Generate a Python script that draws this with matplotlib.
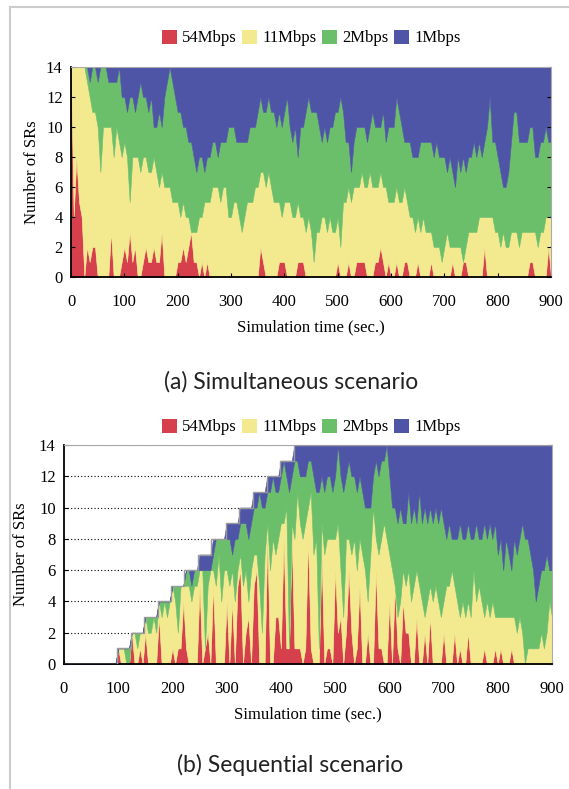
import numpy as np
import matplotlib.pyplot as plt
from matplotlib.patches import Patch
from matplotlib.lines import Line2D

plt.rcParams['font.family'] = ['Liberation Serif', 'DejaVu Serif']

# sample times (sec.)
t = np.arange(0, 901, 5)

rates = ['54Mbps', '11Mbps', '2Mbps', '1Mbps']
colors = ['#d6404c', '#f3ea90', '#6bbf6a', '#4f55a6']

# (a) simultaneous scenario, 14 SRs all the time
# SRs at 54Mbps / at 11Mbps or faster / at 2Mbps or faster
a_total = 14
a_54 = [14, 4, 8, 5, 4, 0, 2, 1, 2, 2,
        0, 0, 0, 0, 0, 3, 0, 0, 0, 1,
        2, 1, 3, 1, 2, 0, 0, 1, 2, 1,
        1, 2, 1, 1, 3, 0, 0, 0, 0, 0,
        1, 1, 2, 1, 2, 3, 1, 1, 0, 1,
        0, 1, 0, 0, 0, 0, 0, 0, 0, 0,
        0, 0, 0, 0, 0, 0, 0, 0, 0, 0,
        0, 2, 1, 0, 0, 0, 0, 0, 1, 1,
        1, 0, 0, 0, 0, 1, 1, 1, 0, 0,
        0, 0, 0, 0, 0, 0, 0, 0, 0, 0,
        1, 0, 0, 0, 1, 0, 0, 1, 1, 1,
        1, 0, 0, 0, 1, 1, 2, 1, 0, 1,
        0, 0, 1, 0, 0, 1, 1, 0, 0, 0,
        1, 0, 0, 0, 0, 1, 0, 0, 0, 0,
        0, 0, 0, 1, 0, 0, 0, 1, 1, 0,
        0, 0, 0, 0, 0, 2, 0, 0, 0, 0,
        0, 0, 0, 0, 0, 0, 0, 0, 0, 0,
        0, 0, 1, 1, 0, 0, 0, 0, 0, 2,
        0]
a_upto11 = [14, 14, 14, 14, 14, 14, 13, 12, 11, 11,
            10, 7, 10, 10, 10, 10, 8, 10, 9, 8,
            9, 8, 5, 8, 8, 8, 7, 8, 8, 7,
            7, 8, 7, 6, 7, 6, 6, 6, 5, 5,
            5, 4, 5, 4, 4, 3, 3, 3, 4, 4,
            5, 5, 5, 6, 6, 6, 5, 6, 6, 4,
            4, 5, 5, 4, 3, 4, 5, 5, 5, 6,
            6, 7, 7, 6, 7, 6, 5, 5, 5, 4,
            5, 5, 5, 4, 4, 5, 4, 4, 3, 4,
            3, 1, 3, 3, 4, 4, 3, 4, 3, 3,
            4, 2, 5, 5, 6, 5, 6, 6, 6, 7,
            6, 6, 7, 6, 6, 6, 7, 6, 6, 5,
            5, 5, 6, 5, 5, 6, 5, 4, 4, 3,
            4, 3, 4, 3, 3, 3, 2, 2, 2, 1,
            2, 3, 2, 2, 2, 2, 2, 1, 2, 3,
            3, 3, 3, 4, 4, 4, 4, 4, 4, 3,
            3, 2, 3, 2, 2, 3, 3, 3, 2, 3,
            3, 3, 3, 3, 3, 2, 3, 3, 4, 4,
            4]
a_upto2 = [14, 14, 14, 14, 14, 14, 14, 13, 14, 14,
           13, 14, 14, 14, 13, 13, 13, 13, 14, 12,
           12, 11, 12, 12, 11, 12, 13, 12, 12, 11,
           12, 10, 10, 11, 10, 12, 13, 14, 13, 12,
           11, 11, 10, 10, 9, 9, 8, 7, 8, 8,
           7, 8, 8, 9, 9, 8, 9, 9, 9, 10,
           10, 10, 9, 9, 9, 9, 9, 10, 10, 10,
           11, 12, 11, 11, 12, 11, 11, 10, 11, 10,
           11, 12, 10, 9, 10, 8, 10, 10, 11, 12,
           11, 11, 11, 10, 9, 10, 9, 10, 10, 11,
           11, 12, 11, 9, 9, 7, 9, 10, 10, 10,
           10, 9, 10, 11, 10, 10, 10, 11, 9, 10,
           10, 10, 12, 11, 10, 9, 9, 9, 8, 8,
           8, 9, 9, 9, 9, 9, 8, 9, 8, 8,
           8, 7, 8, 7, 6, 8, 7, 8, 7, 8,
           8, 9, 8, 9, 8, 9, 10, 12, 9, 9,
           8, 7, 6, 6, 7, 9, 11, 11, 9, 9,
           9, 9, 10, 10, 8, 8, 9, 9, 10, 9,
           9]

# (b) sequential scenario, SRs join one after another
b_join_times = [98, 123, 148, 173, 198, 222, 247, 272, 298, 323, 349, 374, 399, 424]
b_54 = [0, 0, 0, 0, 0, 0, 0, 0, 0, 0,
        0, 0, 0, 0, 0, 0, 0, 0, 0, 0,
        1, 0, 0, 0, 0, 2, 0, 0, 1, 0,
        2, 0, 0, 0, 0, 3, 0, 0, 0, 0,
        1, 0, 1, 1, 4, 1, 0, 0, 0, 0,
        5, 0, 1, 2, 0, 5, 0, 0, 0, 0,
        4, 0, 4, 0, 5, 6, 0, 2, 3, 0,
        5, 6, 0, 0, 0, 8, 0, 0, 3, 3,
        1, 8, 1, 1, 8, 1, 1, 1, 0, 1,
        8, 1, 0, 0, 0, 7, 0, 1, 1, 0,
        6, 2, 3, 0, 2, 6, 2, 0, 1, 5,
        0, 0, 2, 0, 0, 6, 1, 1, 0, 0,
        4, 0, 5, 1, 0, 4, 2, 2, 0, 0,
        3, 0, 0, 2, 0, 3, 0, 0, 0, 0,
        2, 0, 0, 0, 2, 0, 1, 0, 0, 2,
        0, 0, 0, 0, 0, 1, 0, 0, 0, 1,
        0, 1, 0, 0, 0, 1, 0, 0, 0, 0,
        0, 0, 0, 0, 0, 0, 0, 0, 0, 0,
        0]
b_upto11 = [0, 0, 0, 0, 0, 0, 0, 0, 0, 0,
            0, 0, 0, 0, 0, 0, 0, 0, 0, 0,
            1, 1, 1, 0, 0, 2, 2, 1, 2, 2,
            3, 2, 2, 3, 2, 4, 3, 4, 3, 4,
            5, 4, 2, 5, 5, 5, 5, 4, 5, 5,
            6, 6, 1, 5, 6, 6, 5, 7, 4, 6,
            6, 5, 6, 4, 6, 7, 5, 6, 4, 6,
            7, 7, 5, 2, 7, 9, 6, 8, 7, 8,
            9, 9, 10, 1, 9, 8, 11, 9, 8, 9,
            10, 11, 7, 8, 1, 9, 7, 8, 8, 8,
            8, 9, 6, 3, 8, 8, 7, 8, 6, 8,
            7, 6, 4, 7, 10, 8, 7, 8, 9, 8,
            7, 6, 5, 3, 4, 6, 5, 6, 4, 5,
            6, 5, 4, 3, 4, 5, 4, 5, 4, 3,
            4, 5, 5, 6, 5, 4, 3, 4, 3, 4,
            3, 6, 4, 5, 4, 3, 4, 3, 4, 3,
            3, 3, 3, 3, 3, 3, 3, 2, 3, 2,
            0, 1, 1, 1, 1, 1, 2, 1, 2, 4,
            3]
b_upto2 = [0, 0, 0, 0, 0, 0, 0, 0, 0, 0,
           0, 0, 0, 0, 0, 0, 0, 0, 0, 0,
           1, 1, 1, 1, 1, 2, 2, 2, 2, 2,
           3, 3, 3, 3, 3, 4, 4, 4, 4, 4,
           5, 5, 5, 5, 5, 6, 6, 5, 6, 6,
           6, 6, 6, 6, 6, 7, 8, 8, 8, 8,
           8, 8, 7, 8, 8, 9, 9, 9, 8, 9,
           10, 10, 11, 10, 10, 11, 11, 12, 11, 11,
           12, 13, 12, 11, 12, 13, 13, 12, 12, 12,
           13, 13, 12, 11, 11, 12, 11, 12, 12, 11,
           12, 14, 12, 11, 12, 13, 12, 12, 11, 12,
           11, 10, 10, 10, 12, 13, 12, 13, 13, 14,
           12, 10, 10, 9, 10, 9, 9, 11, 9, 10,
           9, 11, 9, 10, 9, 10, 9, 10, 9, 10,
           9, 8, 9, 8, 8, 8, 9, 8, 8, 9,
           8, 8, 9, 8, 8, 9, 8, 9, 8, 9,
           7, 8, 6, 8, 7, 6, 8, 7, 8, 9,
           8, 8, 7, 6, 4, 5, 6, 6, 7, 6,
           6]

b_total = np.array([np.sum(np.array(b_join_times) <= x) for x in t])


def draw_panel(ax, total, r54, upto11, upto2, ylabelpad):
    r54 = np.array(r54)
    upto11 = np.array(upto11)
    upto2 = np.array(upto2)
    counts = [r54, upto11 - r54, upto2 - upto11, total - upto2]
    polys = ax.stackplot(t, counts, colors=colors, linewidth=0.4)
    for p, c in zip(polys, colors):
        p.set_edgecolor(c)
    ax.set_xlim(0, 900)
    ax.set_ylim(0, 14)
    ax.set_xticks(range(0, 901, 100))
    ax.set_yticks(range(0, 15, 2))
    ax.tick_params(axis='x', direction='in', length=3, labelsize=12, pad=12)
    ax.tick_params(axis='y', direction='in', length=3, labelsize=12, pad=6, right=True)
    for s in ['top', 'right']:
        ax.spines[s].set_color('#aaaaaa')
    for s in ['left', 'bottom']:
        ax.spines[s].set_linewidth(1.3)
    ax.set_xlabel('Simulation time (sec.)', fontsize=12, labelpad=7)
    ax.set_ylabel('Number of SRs', fontsize=12, labelpad=ylabelpad)


fig = plt.figure(figsize=(5.69, 7.89), dpi=100)
W, H = 569, 789

ax1 = fig.add_axes([71 / W, 1 - 277 / H, 480 / W, 210 / H])
draw_panel(ax1, a_total, a_54, a_upto11, a_upto2, 4)

ax2 = fig.add_axes([64 / W, 1 - 664 / H, 488 / W, 219 / H])
ax2.yaxis.grid(True, linestyle=(0, (1, 2)), color='black', linewidth=0.8)
ax2.set_axisbelow(True)
draw_panel(ax2, b_total, b_54, b_upto11, b_upto2, 7)
ax2.spines['top'].set_linestyle((0, (1, 1)))
steps_x = np.r_[0, b_join_times, 900]
steps_y = np.r_[0, np.arange(1, len(b_join_times) + 1), len(b_join_times)]
ax2.step(steps_x, steps_y, where='post', color='#9a9a9a', linewidth=1, zorder=3)

handles = [Patch(facecolor=c, edgecolor='none') for c in colors]
for y in [1 - 38 / H, 1 - 427 / H]:
    fig.legend(handles, rates, loc='center', bbox_to_anchor=(311 / W, y), ncol=4,
               frameon=False, fontsize=12, handlelength=0.9, handleheight=0.9,
               handletextpad=0.3, columnspacing=0.35, borderaxespad=0)

fig.text(291 / W, 1 - 382 / H, '(a) Simultaneous scenario', ha='center', va='center',
         fontsize=16.5, family=['Lato', 'DejaVu Sans'], fontweight='normal', color='#222222')
fig.text(290 / W, 1 - 765 / H, '(b) Sequential scenario', ha='center', va='center',
         fontsize=16.5, family=['Lato', 'DejaVu Sans'], fontweight='normal', color='#222222')

# page frame
fig.add_artist(Line2D([9.5 / W, 1], [1 - 7 / H, 1 - 7 / H], transform=fig.transFigure,
                      color='#cccccc', linewidth=1.5))
fig.add_artist(Line2D([9.5 / W, 9.5 / W], [0, 1 - 7 / H], transform=fig.transFigure,
                      color='#cccccc', linewidth=1.5))

fig.savefig('out.png', dpi=100)
